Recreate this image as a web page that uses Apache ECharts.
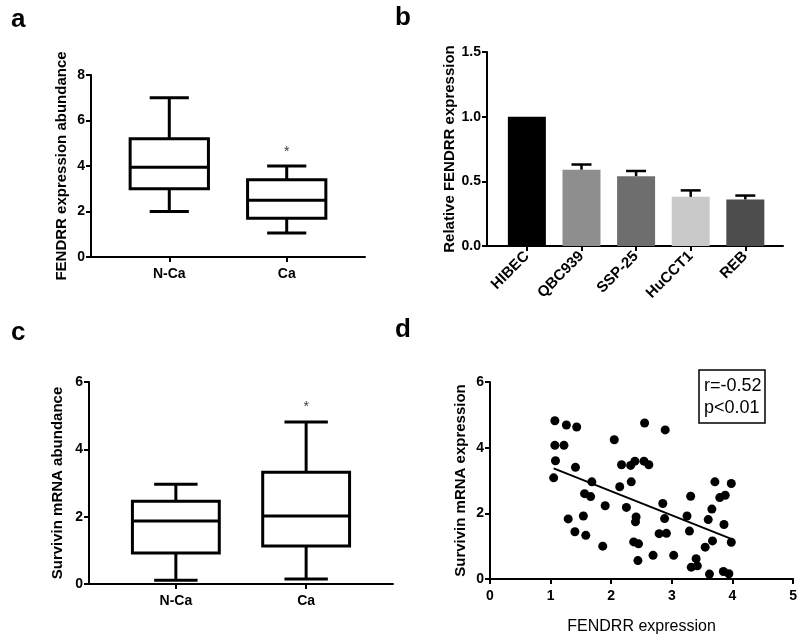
<!DOCTYPE html>
<html>
<head>
<meta charset="utf-8">
<script src="https://cdn.jsdelivr.net/npm/echarts@6/dist/echarts.min.js"></script>
<style>
  html, body { margin: 0; padding: 0; background: #fff; }
  #chart { width: 800px; height: 636px; }
</style>
</head>
<body>
<div id="chart"></div>
<script>
// panel a / c: box plots [min, q1, median, q3, max]
const groups = ['N-Ca', 'Ca'];
const fendrrBox = [[2.0, 3.0, 3.95, 5.2, 7.0], [1.05, 1.7, 2.5, 3.4, 4.0]];
const survivinBox = [[0.11, 0.92, 1.87, 2.46, 2.96], [0.15, 1.13, 2.02, 3.32, 4.81]];
const starA = 4.6;
const starC = 5.25;

// panel b
const cellLines = ['HIBEC', 'QBC939', 'SSP-25', 'HuCCT1', 'REB'];
const relExpr = [1.0, 0.59, 0.54, 0.38, 0.36];
const relErr = [0, 0.04, 0.04, 0.05, 0.03];
const barColors = ['#000000', '#8e8e8e', '#6e6e6e', '#c9c9c9', '#4d4d4d'];

// panel d: scatter
const fendrrExpr = [1.07, 1.07, 1.22, 1.08, 1.05, 1.26, 1.43, 1.41, 1.68, 1.56,
  1.66, 1.29, 1.54, 1.40, 1.58, 1.86, 1.90, 2.05, 2.14, 2.17,
  2.25, 2.32, 2.33, 2.39, 2.41, 2.40, 2.37, 2.45, 2.44, 2.55,
  2.54, 2.62, 2.89, 2.69, 2.85, 2.88, 2.79, 2.91, 3.03, 3.25,
  3.29, 3.31, 3.40, 3.32, 3.42, 3.62, 3.55, 3.60, 3.66, 3.67,
  3.71, 3.79, 3.88, 3.86, 3.98, 3.98, 3.85, 3.94];
const survivinExpr = [4.82, 4.07, 4.07, 3.60, 3.08, 4.69, 4.63, 3.40, 2.96, 2.60,
  2.51, 1.83, 1.92, 1.44, 1.33, 1.00, 2.23, 4.24, 2.81, 3.48,
  2.18, 3.46, 2.96, 3.59, 1.89, 1.74, 1.13, 1.07, 0.56, 4.75,
  3.59, 3.48, 4.54, 0.72, 2.30, 1.84, 1.38, 1.39, 0.72, 1.92,
  1.46, 2.52, 0.62, 0.36, 0.40, 0.15, 0.97, 1.81, 2.13, 1.16,
  2.96, 2.48, 2.55, 1.66, 2.91, 1.12, 0.23, 0.16];
const fitLine = [[1.05, 3.37], [3.98, 1.22]];

const font = 'Liberation Sans, Arial, sans-serif';
const groupPos = [1, 2.5];
const barPos = cellLines.map((_, i) => i + 0.73);

const axisLine = { lineStyle: { color: '#000', width: 2 } };
const axisTick = { length: 5, lineStyle: { color: '#000', width: 2 } };
const tickLabel = { color: '#000', fontFamily: font, fontWeight: 'bold', fontSize: 14, margin: 6 };

function boxItem(params, api) {
  const x = api.value(0);
  const half = api.size([1, 0])[0] / 2;
  const cap = half / 2;
  const p = [1, 2, 3, 4, 5].map(i => api.coord([x, api.value(i)]));
  const cx = p[0][0];
  const st = { stroke: '#000', lineWidth: 3, fill: null };
  return {
    type: 'group',
    children: [
      { type: 'line', shape: { x1: cx, y1: p[4][1], x2: cx, y2: p[3][1] }, style: st },
      { type: 'line', shape: { x1: cx, y1: p[0][1], x2: cx, y2: p[1][1] }, style: st },
      { type: 'line', shape: { x1: cx - cap, y1: p[4][1], x2: cx + cap, y2: p[4][1] }, style: st },
      { type: 'line', shape: { x1: cx - cap, y1: p[0][1], x2: cx + cap, y2: p[0][1] }, style: st },
      { type: 'rect', shape: { x: cx - half, y: p[3][1], width: half * 2, height: p[1][1] - p[3][1] }, style: { stroke: '#000', lineWidth: 3, fill: '#fff' } },
      { type: 'line', shape: { x1: cx - half, y1: p[2][1], x2: cx + half, y2: p[2][1] }, style: st }
    ]
  };
}

function errItem(params, api) {
  const x = api.value(0);
  const top = api.coord([x, api.value(1) + api.value(2)]);
  const base = api.coord([x, api.value(1)]);
  const st = { stroke: '#000', lineWidth: 2.5 };
  return {
    type: 'group',
    children: [
      { type: 'line', shape: { x1: top[0], y1: base[1], x2: top[0], y2: top[1] }, style: st },
      { type: 'line', shape: { x1: top[0] - 10, y1: top[1], x2: top[0] + 10, y2: top[1] }, style: st }
    ]
  };
}

function groupAxis(gi) {
  return {
    type: 'value', gridIndex: gi, min: 0, max: 3.5,
    axisLine: axisLine, splitLine: { show: false },
    axisTick: Object.assign({ customValues: groupPos }, axisTick),
    axisLabel: Object.assign({}, tickLabel, {
      customValues: groupPos, margin: 10,
      formatter: v => groups[groupPos.indexOf(v)]
    })
  };
}

function yAxis(gi, max, interval, name, gap, fmt) {
  return {
    type: 'value', gridIndex: gi, min: 0, max: max, interval: interval,
    name: name, nameLocation: 'middle', nameGap: gap,
    nameTextStyle: { color: '#000', fontFamily: font, fontWeight: 'bold', fontSize: 15 },
    axisLine: Object.assign({ show: true }, axisLine),
    axisTick: Object.assign({ show: true }, axisTick),
    splitLine: { show: false },
    axisLabel: Object.assign({}, tickLabel, fmt ? { formatter: fmt } : {})
  };
}

const letter = (t, l, tp) => ({
  text: t, left: l, top: tp,
  textStyle: { fontFamily: font, fontWeight: 'bold', fontSize: 26, color: '#000' }
});

const chart = echarts.init(document.getElementById('chart'));
chart.setOption({
  animation: false,
  backgroundColor: '#fff',
  title: [
    letter('a', 6, 2),
    letter('b', 390, 0),
    letter('c', 6, 315),
    letter('d', 390, 312),
    {
      text: 'r=-0.52\np<0.01', left: 699, top: 370, padding: [5, 4, 4, 5],
      borderColor: '#000', borderWidth: 1.5,
      textStyle: { fontFamily: font, fontWeight: 'normal', fontSize: 18, color: '#000', lineHeight: 22 }
    }
  ],
  grid: [
    { left: 91, top: 75, width: 274, height: 182 },
    { left: 487, top: 52, width: 296, height: 194 },
    { left: 89, top: 382, width: 304, height: 202 },
    { left: 490, top: 382, width: 304, height: 203 }
  ],
  xAxis: [
    groupAxis(0),
    {
      type: 'value', gridIndex: 1, min: 0, max: 5.42,
      axisLine: axisLine, splitLine: { show: false },
      axisTick: Object.assign({ customValues: barPos }, axisTick),
      axisLabel: Object.assign({}, tickLabel, {
        customValues: barPos, rotate: 45, margin: 8, fontSize: 15,
        formatter: v => cellLines[Math.round(v - 0.73)]
      })
    },
    groupAxis(2),
    {
      type: 'value', gridIndex: 3, min: 0, max: 5, interval: 1,
      name: 'FENDRR expression', nameLocation: 'middle', nameGap: 40,
      nameTextStyle: { color: '#000', fontFamily: font, fontSize: 16 },
      axisLine: axisLine, axisTick: axisTick, splitLine: { show: false },
      axisLabel: Object.assign({}, tickLabel, { margin: 10 })
    }
  ],
  yAxis: [
    yAxis(0, 8, 2, 'FENDRR expression abundance', 22),
    yAxis(1, 1.5, 0.5, 'Relative FENDRR expression', 30, v => v.toFixed(1)),
    yAxis(2, 6, 2, 'Survivin mRNA abundance', 24),
    yAxis(3, 6, 2, 'Survivin mRNA expression', 22)
  ],
  series: [
    {
      type: 'custom', xAxisIndex: 0, yAxisIndex: 0, renderItem: boxItem,
      data: fendrrBox.map((b, i) => [groupPos[i]].concat(b))
    },
    {
      type: 'scatter', xAxisIndex: 0, yAxisIndex: 0, symbolSize: 0,
      data: [[groupPos[1], starA]],
      label: { show: true, position: 'inside', formatter: '*', color: '#000', fontSize: 14, fontFamily: font }
    },
    {
      type: 'bar', xAxisIndex: 1, yAxisIndex: 1, barWidth: 38,
      data: relExpr.map((v, i) => ({ value: [barPos[i], v], itemStyle: { color: barColors[i] } }))
    },
    {
      type: 'custom', xAxisIndex: 1, yAxisIndex: 1, renderItem: errItem, z: 3,
      data: relExpr.map((v, i) => [barPos[i], v, relErr[i]]).filter(d => d[2] > 0)
    },
    {
      type: 'custom', xAxisIndex: 2, yAxisIndex: 2, renderItem: boxItem,
      data: survivinBox.map((b, i) => [groupPos[i]].concat(b))
    },
    {
      type: 'scatter', xAxisIndex: 2, yAxisIndex: 2, symbolSize: 0,
      data: [[groupPos[1], starC]],
      label: { show: true, position: 'inside', formatter: '*', color: '#000', fontSize: 14, fontFamily: font }
    },
    {
      type: 'scatter', xAxisIndex: 3, yAxisIndex: 3, symbolSize: 9,
      itemStyle: { color: '#000', opacity: 1 },
      data: fendrrExpr.map((x, i) => [x, survivinExpr[i]])
    },
    {
      type: 'line', xAxisIndex: 3, yAxisIndex: 3, showSymbol: false,
      lineStyle: { color: '#000', width: 2 },
      data: fitLine
    }
  ]
});
</script>
</body>
</html>
